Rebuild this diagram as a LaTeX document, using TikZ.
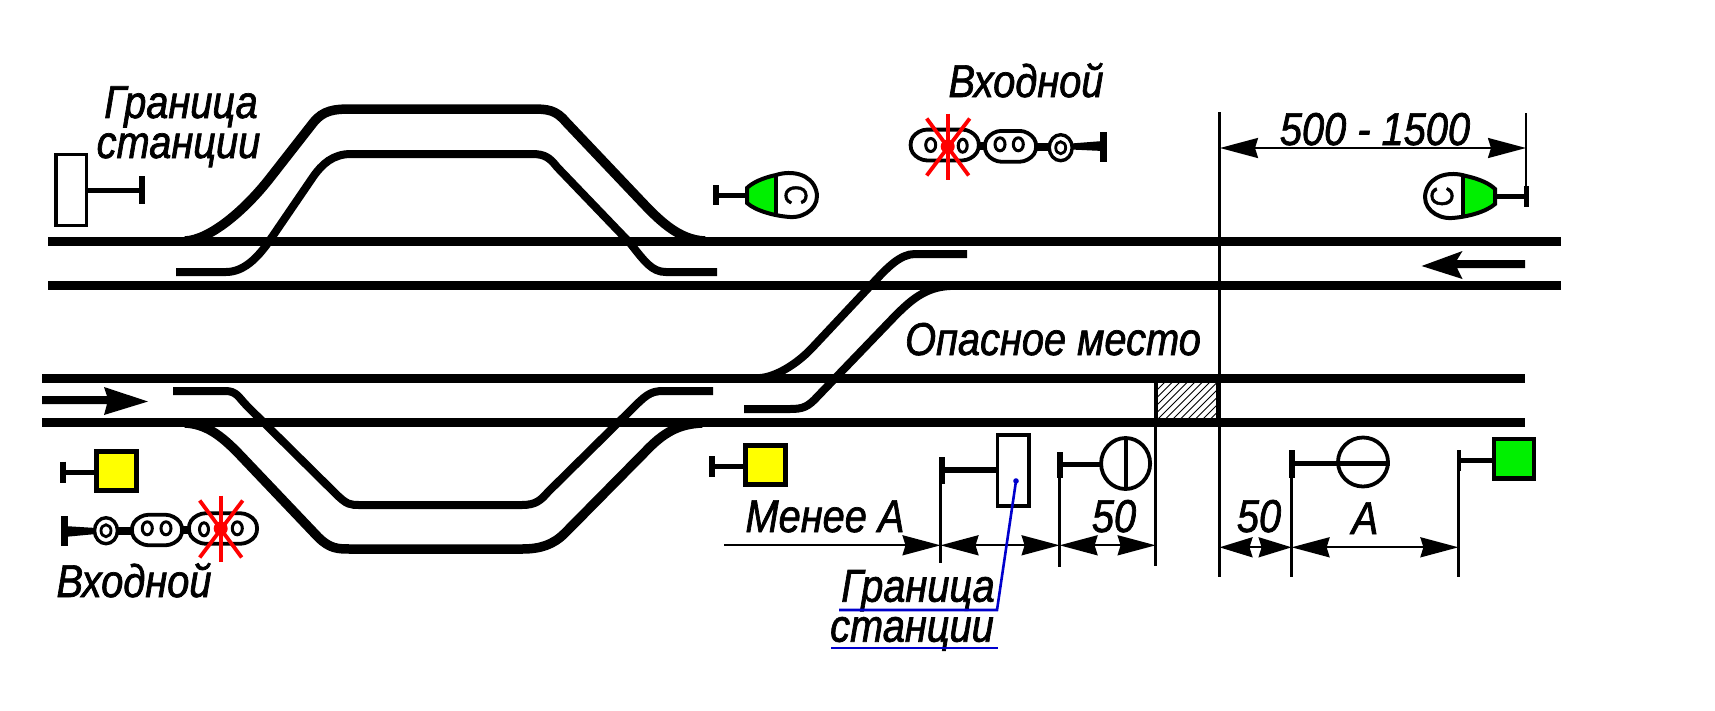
\documentclass[tikz,border=0pt]{standalone}
\usepackage{fontspec}
\setmainfont[FakeStretch=0.865,FakeBold=1.5]{Liberation Sans}
\usetikzlibrary{arrows.meta}
\definecolor{sigred}{RGB}{255,0,0}
\definecolor{siggreen}{RGB}{0,240,0}
\definecolor{sigyellow}{RGB}{255,255,0}
\definecolor{leaderblue}{RGB}{0,0,205}
\tikzset{
  x=1pt,y=-1pt,
  track/.style={line width=8.6pt},
  looptrack/.style={line width=9.5pt},
  switchline/.style={line width=8pt},
  rule/.style={line width=2.5pt},
  post/.style={line width=5pt},
  sigframe/.style={line width=4.4pt},
  lampline/.style={line width=3.8pt},
  dimline/.style={line width=2.2pt,{Stealth[length=38pt,width=20pt,inset=3pt]}-{Stealth[length=38pt,width=20pt,inset=3pt]}},
  dimshort/.style={line width=2.2pt,{Stealth[length=33pt,width=20pt,inset=3pt]}-{Stealth[length=33pt,width=20pt,inset=3pt]}},
  dimright/.style={line width=2.2pt,-{Stealth[length=38pt,width=20pt,inset=3pt]}},
  lab/.style={font=\fontsize{46}{46}\selectfont\itshape,anchor=base,inner sep=0pt},
  leader/.style={leaderblue,line width=2.6pt},
  flash/.style={sigred,line width=3.8pt},
}
% centre x, centre y, half width, half height
\newcommand\lamphead[4]{%
  \draw[lampline,fill=white,rounded corners=9pt]
    ({#1-#3+9},{#2-#4})--({#1+#3-9},{#2-#4})--({#1+#3+1},#2)--({#1+#3-9},{#2+#4})
    --({#1-#3+9},{#2+#4})--({#1-#3-1},#2)--cycle;}
\newcommand\lamphole[3]{\draw[line width=3pt,fill=white] (#1,#2) ellipse [x radius=#3,y radius=6.5];}
\newcommand\flashstar[2]{%
  \draw[flash] (#1,{#2-33})--(#1,{#2+33});
  \draw[flash] ({#1-21},{#2-28})--({#1+21},{#2+29});
  \draw[flash] ({#1+22},{#2-28})--({#1-21},{#2+29});
  \fill[sigred] (#1,#2) circle (7);}
\newcommand\smallcirc[2]{%
  \draw[line width=3.4pt,fill=white] (#1,#2) ellipse [x radius=11.5,y radius=13];
  \draw[line width=2.8pt,fill=white] (#1,#2) ellipse [x radius=5,y radius=6];}
\newcommand\cheadpath{(747,188) .. controls (752,183) and (762,178) .. (776,175) .. controls (792,170) and (811,174) .. (816,190) .. controls (821,206) and (806,218) .. (790,217) .. controls (775,216) and (756,211) .. (747,203) -- cycle}
\begin{document}
\begin{tikzpicture}
\useasboundingbox[fill=white] (0,0) rectangle (1715,710);

% hatched dangerous place
\begin{scope}
  \clip (1157,378) rectangle (1218,422);
  \foreach \a in {1110,1117.5,...,1220}
    \draw[line width=1pt] (\a,422)--({\a+44},378);
\end{scope}

% main tracks
\draw[track] (48,241.5)--(1561,241.5);
\draw[track] (48,285.5)--(1561,285.5);
\draw[track] (42,378.3)--(1525,378.3);
\draw[track] (42,422.3)--(1525,422.3);

% upper loop
\draw[looptrack] (185,241) .. controls (210,240) and (245,210) .. (270,178) -- (313,123) .. controls (323,110) and (335,109) .. (351,109)
  -- (532,109) .. controls (548,109) and (556,110) .. (566,122) -- (640,200) .. controls (658,219) and (678,240) .. (705,241);
\draw[switchline] (176,272) -- (226,272) .. controls (243,272) and (257,259) .. (270,240) -- (313,177)
  .. controls (322,164) and (333,154) .. (351,154) -- (532,154) .. controls (545,154) and (550,158) .. (557,167)
  -- (630,243) .. controls (645,262) and (652,272) .. (666,272) -- (717,272);
% lower loop
\draw[switchline] (173,391) -- (225,391) .. controls (237,391) and (238,397) .. (248,407) -- (335,493)
  .. controls (347,505) and (350,505) .. (360,505) -- (522,505) .. controls (536,505) and (541,500) .. (548,492)
  -- (632,409) .. controls (645,396) and (650,391) .. (663,391) -- (713,391);
\draw[looptrack] (185,423) .. controls (205,424) and (220,434) .. (240,455) -- (318,537) .. controls (330,549) and (338,549) .. (351,549)
  -- (522,549) .. controls (540,549) and (553,545) .. (565,533) -- (645,452) .. controls (663,433) and (678,424) .. (702,423);
% crossover
\draw[switchline] (760,378) .. controls (775,377) and (796,365) .. (812,348) -- (873,283) .. controls (887,268) and (900,254) .. (915,254) -- (967,254);
\draw[switchline] (744,409) -- (790,409) .. controls (803,409) and (808,407) .. (818,396) -- (895,316) .. controls (910,301) and (925,287) .. (950,286);

% direction arrows
\fill (42,396)--(107,396)--(104,387)--(148,401.5)--(104,415)--(107,404)--(42,404)--cycle;
\fill (1525,260)--(1457,260)--(1462.5,251)--(1421.6,266)--(1462.5,279)--(1457,268)--(1525,268)--cycle;

% extension lines
\draw[rule] (1219.5,112)--(1219.5,577);
\draw[line width=4.5pt] (1218.5,378)--(1218.5,422);
\draw[line width=4.5pt] (1156,378)--(1156,422);
\draw[rule] (1155.6,422)--(1155.6,566);
\draw[rule] (1526,113)--(1526,207);
\draw[rule] (940.5,457)--(940.5,563);
\draw[rule] (1059.6,452)--(1059.6,567);
\draw[rule] (1291.6,450)--(1291.6,577);
\draw[rule] (1458.4,450)--(1458.4,577);

% dimension arrows
\draw[dimline] (1220,148)--(1526,148);
\draw[dimright] (724,545.3)--(940.5,545.3);
\draw[dimline] (940.5,545.3)--(1059.6,545.3);
\draw[dimline] (1059.6,545.3)--(1155.6,545.3);
\draw[dimshort] (1219.5,547.3)--(1291.6,547.3);
\draw[dimline] (1291.6,547.3)--(1458.4,547.3);

% top-left boundary board
\draw[line width=3.8pt,fill=white] (56,154.5) rectangle (86.5,225.5);
\draw[post] (88,190)--(141.5,190);
\draw[line width=6pt] (141.5,176)--(141.5,204);

% lower boundary board
\draw[line width=3.8pt,fill=white] (997.5,435) rectangle (1029,506);
\draw[post,line width=6pt] (942,470)--(995.5,470);
\draw[line width=6pt] (942,457)--(942,484);

% yellow signals
\draw[sigframe,fill=sigyellow] (96.5,451.5) rectangle (136.5,490.5);
\draw[post] (63,472.3)--(94,472.3);
\draw[line width=6pt] (63,461.7)--(63,482.7);
\draw[sigframe,fill=sigyellow] (745.5,445.5) rectangle (785.5,484.5);
\draw[post] (712,466.7)--(743,466.7);
\draw[line width=6pt] (712,456)--(712,476.7);

% green signal
\draw[sigframe,fill=siggreen] (1494,439) rectangle (1534,478.5);
\draw[post] (1458,460)--(1492,460);
\draw[line width=4pt] (1459,450)--(1459,471);

% circle with vertical bar
\draw[line width=3.8pt,fill=white] (1125.6,463.5) ellipse [x radius=24.5,y radius=25.5];
\draw[line width=4pt] (1125.5,438)--(1125.5,489);
\draw[post] (1060,464)--(1100,464);
\draw[line width=6pt] (1060,452)--(1060,478);

% circle with horizontal bar
\draw[line width=3.8pt,fill=white] (1363,462) ellipse [x radius=25,y radius=24.5];
\draw[post] (1292,463)--(1390,463);
\draw[line width=6pt] (1292,450)--(1292,478);

% signal C left
\draw[line width=6pt] (716,185)--(716,205);
\draw[post] (716,195)--(747,195);
\begin{scope}
  \fill[white] \cheadpath;
  \begin{scope}
    \clip (740,160) rectangle (776,230);
    \fill[siggreen] \cheadpath;
  \end{scope}
  \draw[line width=4pt] \cheadpath;
  \draw[line width=3.2pt] (776,175)--(776,216);
\end{scope}
\node[rotate=-90,font=\fontsize{32}{32}\selectfont,inner sep=0pt] (cleft) at (796,195) {C};

% signal C right
\draw[line width=5pt] (1526,186)--(1526,207);
\draw[post] (1495,196)--(1526,196);
\begin{scope}[shift={(2242,1)},xscale=-1]
  \fill[white] \cheadpath;
  \begin{scope}
    \clip (740,160) rectangle (779,230);
    \fill[siggreen] \cheadpath;
  \end{scope}
  \draw[line width=4pt] \cheadpath;
  \draw[line width=3.2pt] (779,175)--(779,216);
\end{scope}
\node[rotate=90,font=\fontsize{32}{32}\selectfont,inner sep=0pt] (cright) at (1442,196.5) {C};

% top entry signal
\draw[line width=7pt] (1103.3,132.3)--(1103.3,161.7);
\fill (1103,141)--(1071,143.5)--(1071,149.5)--(1103,151)--cycle;
\draw[line width=8pt] (1030,146.7)--(1052,146.7);
\draw[line width=8pt] (975,146)--(990,146);
\smallcirc{1060.7}{147.7}
\lamphead{1010.5}{146.3}{27.5}{15.4}
\lamphole{1000}{144.3}{5}
\lamphole{1018.3}{144.3}{5}
\lamphead{944.7}{145}{36}{15.4}
\lamphole{930.7}{145}{5}
\lamphole{962.7}{145.7}{4.5}
\flashstar{947.7}{146.5}

% bottom entry signal
\draw[line width=7pt] (64,516)--(64,546);
\fill (64,526)--(96,528)--(96,534)--(64,537)--cycle;
\draw[line width=8pt] (112,530.5)--(135,530.5);
\draw[line width=8pt] (178,530)--(194,530);
\smallcirc{106}{530.7}
\lamphead{157}{530}{27}{15.2}
\lamphole{147.3}{528.3}{5}
\lamphole{166}{528.3}{5}
\lamphead{223}{528.5}{36}{15.2}
\lamphole{204}{529.3}{4.5}
\lamphole{237.3}{528.3}{5}
\flashstar{220.7}{528.5}

% labels
\node[lab] (gr1) at (181,118) {Граница};
\node[lab] (st1) at (178.5,158) {станции};
\node[lab] (vh1) at (1026,97) {Входной};
\node[lab] (vh2) at (134,597) {Входной};
\node[lab] (dim1) at (1375,145) {500 - 1500};
\node[lab] (opas) at (1053,355) {Опасное место};
\node[lab] (men) at (825,532) {Менее А};
\node[lab] (fif1) at (1114,532) {50};
\node[lab] (fif2) at (1259,532) {50};
\node[lab] (aa) at (1365,534) {А};
\node[lab] (gr2) at (918,601.7) {Граница};
\node[lab] (st2) at (912,641.7) {станции};

% blue leader
\draw[leader] (839,610)--(997,610)--(1016,481);
\fill[leaderblue] (1016,481) circle (2.8);
\draw[leader] (831,648)--(998,648);
\end{tikzpicture}
\end{document}
